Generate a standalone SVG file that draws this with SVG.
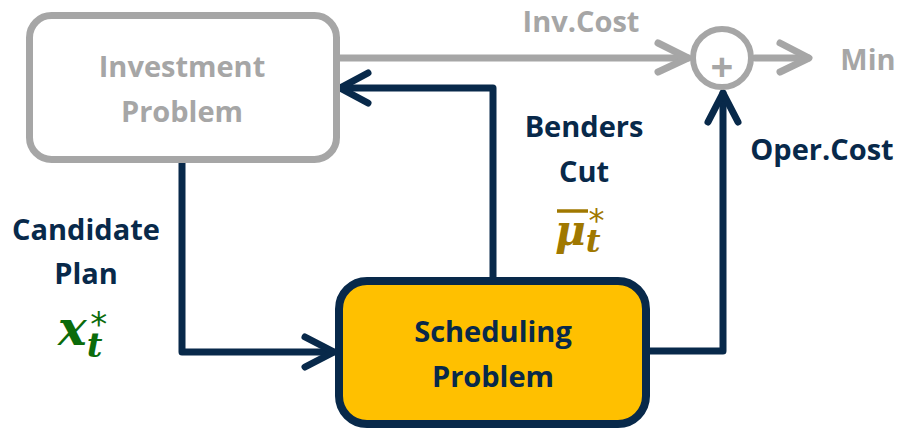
<svg xmlns="http://www.w3.org/2000/svg" width="900" height="429" viewBox="0 0 900 429">
  <style>
    .lbl { font-family: "Open Sans", "Liberation Sans", sans-serif; font-weight: 700; font-size: 29px; text-anchor: middle; }
    .navy { fill: #08294A; }
    .grey { fill: #A6A6A6; }
    .wire { fill: none; stroke-width: 7; stroke-linecap: round; stroke-linejoin: round; }
    .wn { stroke: #08294A; }
    .wg { stroke: #A6A6A6; }
    .math { font-family: "DejaVu Serif", "Liberation Serif", serif; font-weight: 700; font-style: italic; }
    .star { font-family: "DejaVu Sans", sans-serif; font-weight: 400; font-style: normal; }
  </style>

  <g id="connectors">
    <!-- investment cost to summing junction -->
    <path class="wire wg" d="M340 58 H688"/>
    <polyline class="wire wg" points="658,43 688,58 658,72"/>
    <!-- junction output -->
    <path class="wire wg" d="M755 58 H808"/>
    <polyline class="wire wg" points="780,43 809,58 780,72"/>
    <!-- candidate plan -->
    <path class="wire wn" d="M182 163 V352 H333"/>
    <polyline class="wire wn" points="305,337 334,352 305,367"/>
    <!-- benders cut feedback -->
    <path class="wire wn" d="M493 278 V88 H342"/>
    <polyline class="wire wn" points="368,73 340,88 368,103"/>
    <!-- operating cost -->
    <path class="wire wn" d="M650 351 H723 V93"/>
    <polyline class="wire wn" points="708,122 723,93 738,122"/>
  </g>

  <g id="investment">
    <rect x="29.5" y="15.5" width="307" height="144" rx="22" fill="#FFFFFF" stroke="#A6A6A6" stroke-width="7"/>
    <text class="lbl grey" x="182" y="77">Investment</text>
    <text class="lbl grey" x="182" y="122">Problem</text>
  </g>

  <g id="sum">
    <circle cx="722" cy="58" r="29" fill="#FFFFFF" stroke="#A6A6A6" stroke-width="6"/>
    <text class="grey" x="722" y="81" font-family="Open Sans, sans-serif" font-weight="700" font-size="40" text-anchor="middle">+</text>
  </g>

  <g id="scheduling">
    <rect x="339" y="281" width="307" height="143" rx="28" fill="#FFC000" stroke="#08294A" stroke-width="8"/>
    <text class="lbl navy" x="493" y="342">Scheduling</text>
    <text class="lbl navy" x="493" y="387">Problem</text>
  </g>

  <g id="labels">
    <text class="lbl grey" x="581" y="32">Inv.Cost</text>
    <text class="lbl grey" x="868" y="70">Min</text>
    <text class="lbl navy" x="584" y="137">Benders</text>
    <text class="lbl navy" x="584" y="182">Cut</text>
    <text class="lbl navy" x="822" y="160">Oper.Cost</text>
    <text class="lbl navy" x="86" y="240">Candidate</text>
    <text class="lbl navy" x="86" y="284">Plan</text>
    <!-- x_t^* : base, subscript, then superscript pulled back over the subscript -->
    <text class="math" fill="#0B6B0B" x="58" y="345"><tspan font-size="48">x</tspan><tspan font-size="34" dy="12">t</tspan><tspan class="star" font-size="34" dx="-12" dy="-21">*</tspan></text>
    <!-- mu-bar_t^* -->
    <line x1="557" y1="211" x2="588" y2="211" stroke="#A07800" stroke-width="3.5"/>
    <text class="math" fill="#A07800" x="555" y="245"><tspan font-size="42">μ</tspan><tspan font-size="32" dy="7">t</tspan><tspan class="star" font-size="32" dx="-12" dy="-21">*</tspan></text>
  </g>
</svg>
